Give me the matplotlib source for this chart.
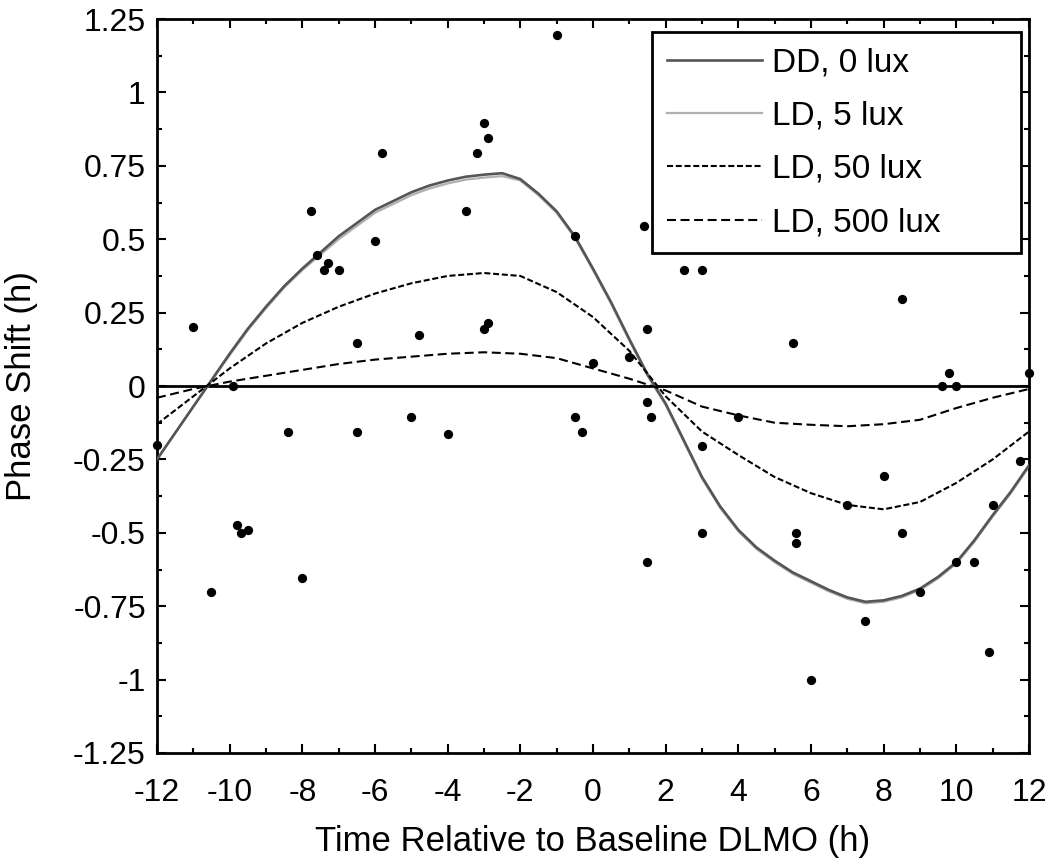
import numpy as np
import matplotlib.pyplot as plt

plt.rcParams['font.family'] = ['Liberation Sans', 'DejaVu Sans']
plt.rcParams['axes.unicode_minus'] = False

# curvas (tiempo relativo a DLMO, h)
t_dd = [-12, -11, -10, -9.5, -9, -8.5, -8, -7, -6, -5, -4.5, -4, -3.5, -3,
        -2.5, -2, -1.5, -1, -0.5, 0, 0.5, 1, 1.5, 2, 2.5, 3, 3.5, 4, 4.5, 5,
        5.5, 6, 6.5, 7, 7.5, 8, 8.5, 9, 9.5, 10, 10.5, 11, 11.5, 12]
dd_0 = [-0.25, -0.07, 0.11, 0.195, 0.27, 0.34, 0.40, 0.51, 0.60, 0.66, 0.683,
        0.70, 0.713, 0.72, 0.725, 0.705, 0.655, 0.595, 0.51, 0.40, 0.285,
        0.16, 0.04, -0.06, -0.185, -0.31, -0.41, -0.49, -0.55, -0.595,
        -0.635, -0.665, -0.695, -0.72, -0.735, -0.73, -0.715, -0.69, -0.65,
        -0.60, -0.525, -0.44, -0.36, -0.27]
ld_5 = [-0.25, -0.07, 0.105, 0.19, 0.265, 0.335, 0.395, 0.50, 0.59, 0.65,
        0.673, 0.69, 0.703, 0.71, 0.715, 0.70, 0.65, 0.59, 0.505, 0.395,
        0.28, 0.155, 0.035, -0.065, -0.19, -0.315, -0.415, -0.495, -0.555,
        -0.60, -0.64, -0.67, -0.70, -0.725, -0.74, -0.735, -0.72, -0.695,
        -0.655, -0.605, -0.53, -0.445, -0.365, -0.275]

t_h = [-12, -11, -10, -9, -8, -7, -6, -5, -4, -3, -2, -1, 0, 1, 2, 3, 4, 5,
       6, 7, 8, 9, 10, 11, 12]
ld_50 = [-0.13, -0.035, 0.06, 0.145, 0.215, 0.27, 0.315, 0.35, 0.375, 0.385,
         0.375, 0.32, 0.235, 0.12, -0.035, -0.155, -0.235, -0.31, -0.365,
         -0.405, -0.42, -0.395, -0.33, -0.25, -0.155]
ld_500 = [-0.04, -0.01, 0.015, 0.035, 0.055, 0.075, 0.09, 0.10, 0.11, 0.115,
          0.11, 0.095, 0.06, 0.025, -0.015, -0.07, -0.10, -0.125, -0.132,
          -0.137, -0.13, -0.115, -0.075, -0.04, -0.01]

# puntos individuales
px = [-12, -11, -10.5, -9.9, -9.8, -9.7, -9.5, -8.4, -8, -7.75, -7.6, -7.4,
      -7.3, -7, -6.5, -6.5, -6, -5.8, -5, -4.8, -4, -3.5, -3.2, -3, -2.9,
      -2.9, -3, -1, -0.5, -0.5, -0.3, 0, 1, 1.4, 1.5, 1.5, 1.6, 1.5, 2.5, 3,
      3, 3, 4, 5.5, 5.6, 5.6, 6, 7, 7.5, 8, 8.5, 8.5, 9, 9.6, 9.8, 10, 10,
      10.5, 10.9, 11, 11.75, 12]
py = [-0.2, 0.2, -0.7, 0, -0.475, -0.5, -0.49, -0.155, -0.655, 0.595, 0.445,
      0.395, 0.42, 0.395, 0.145, -0.155, 0.495, 0.795, -0.105, 0.175, -0.165,
      0.595, 0.795, 0.895, 0.845, 0.215, 0.195, 1.195, 0.51, -0.105, -0.155,
      0.08, 0.1, 0.545, 0.195, -0.055, -0.105, -0.6, 0.395, 0.395, -0.205,
      -0.5, -0.105, 0.145, -0.5, -0.535, -1.0, -0.405, -0.8, -0.305, 0.295,
      -0.5, -0.7, 0, 0.045, 0, -0.6, -0.6, -0.905, -0.405, -0.255, 0.045]

xticks = [-12, -10, -8, -6, -4, -2, 0, 2, 4, 6, 8, 10, 12]
xlabels = ['-12', '-10', '-8', '-6', '-4', '-2', '0', '2', '4', '6', '8', '10', '12']
yticks = [-1.25, -1, -0.75, -0.5, -0.25, 0, 0.25, 0.5, 0.75, 1, 1.25]
ylabels = ['-1.25', '-1', '-0.75', '-0.5', '-0.25', '0', '0.25', '0.5',
           '0.75', '1', '1.25']

fig = plt.figure(figsize=(10.5, 8.67), dpi=100)
ax = fig.add_axes([0.1495, 0.1315, 0.8305, 0.8465])

ax.plot(t_dd, dd_0, color='#555555', lw=1.9, label='DD, 0 lux', zorder=3)
ax.plot(t_dd, ld_5, color='#b0b0b0', lw=1.6, label='LD, 5 lux', zorder=2)
ax.plot(t_h, ld_50, color='black', lw=1.5, dashes=(2.9, 1.3),
        label='LD, 50 lux', zorder=3)
ax.plot(t_h, ld_500, color='black', lw=1.5, dashes=(4.3, 2.2),
        label='LD, 500 lux', zorder=3)

ax.axhline(0, color='black', lw=2, zorder=1)
ax.scatter(px, py, s=32, color='black', zorder=4, clip_on=False)

ax.set_xlim(-12, 12)
ax.set_ylim(-1.25, 1.25)
ax.set_xticks(xticks)
ax.set_xticklabels(xlabels)
ax.set_yticks(yticks)
ax.set_yticklabels(ylabels)
ax.set_xticks(np.arange(-11, 12, 2), minor=True)
ax.set_yticks(np.arange(-1.125, 1.2, 0.25), minor=True)
ax.tick_params(which='both', direction='in', top=True, right=True,
               labelsize=23, width=1.5)
ax.tick_params(axis='x', pad=18)
ax.tick_params(axis='y', pad=8)
ax.tick_params(which='major', length=6.5)
ax.tick_params(which='minor', length=3.5)
for s in ax.spines.values():
    s.set_linewidth(2)

ax.set_xlabel('Time Relative to Baseline DLMO (h)', fontsize=25, labelpad=12)
ax.set_ylabel('Phase Shift (h)', fontsize=25)
ax.yaxis.set_label_coords(-0.136, 0.5)

leg = ax.legend(loc='upper right', bbox_to_anchor=(0.568, 0.5, 0.423, 0.482),
                mode='expand', borderaxespad=0, fontsize=24,
                handlelength=2.85, handletextpad=0.3, fancybox=False,
                framealpha=1, edgecolor='black', labelspacing=0.67,
                borderpad=0.45)
leg.get_frame().set_linewidth(2)

plt.savefig('out.png', dpi=100)
